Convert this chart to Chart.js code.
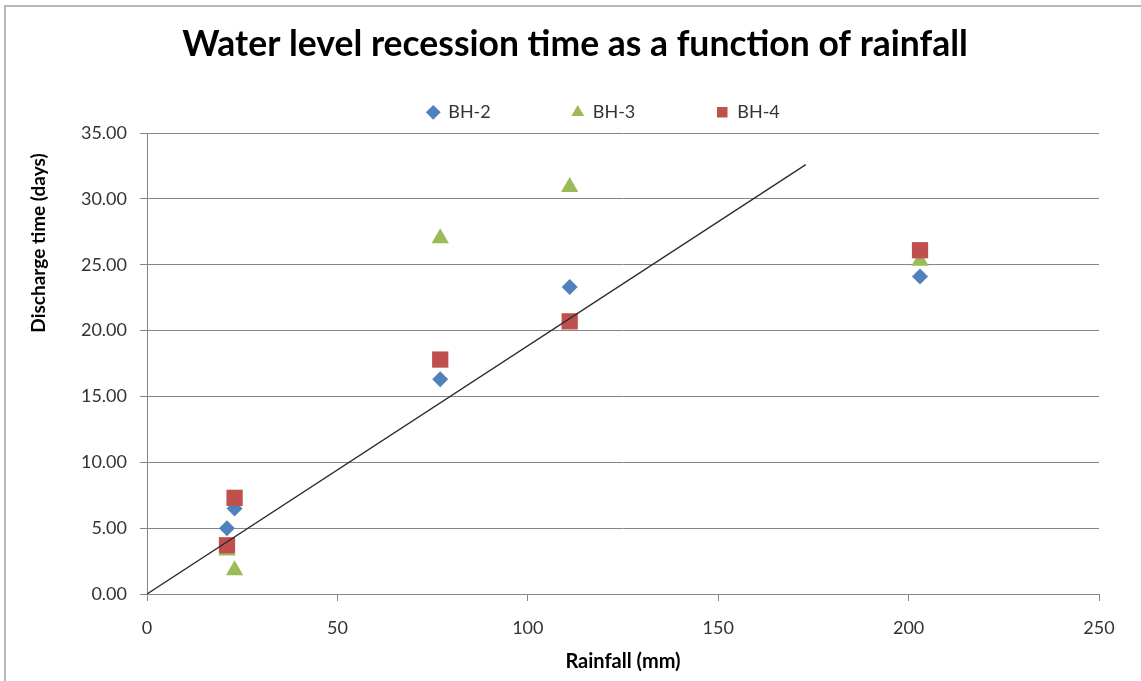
<!DOCTYPE html>
<html>
<head>
<meta charset="utf-8">
<script src="https://cdn.jsdelivr.net/npm/chart.js@4.4.1/dist/chart.umd.min.js"></script>
<style>
  html, body { margin: 0; padding: 0; background: #fff; }
  #wrap { position: relative; width: 1141px; height: 681px; overflow: hidden; }
  #frame { position: absolute; left: 4px; top: 5px; width: 1200px; height: 720px; border: 2px solid #b8b8b8; box-sizing: border-box; pointer-events: none; }
</style>
</head>
<body>
<div id="wrap">
  <canvas id="chart" width="1141" height="681"></canvas>
  <div id="frame"></div>
</div>
<script>
// values
const rainfall = [21, 23, 77, 111, 203];
const bh2 = [5.0, 6.5, 16.3, 23.3, 24.1];
const bh3 = [3.3, 1.8, 27.0, 30.9, 25.3];
const bh4 = [3.7, 7.3, 17.8, 20.7, 26.1];
const trendX = [0, 173];
const trendY = [0, 32.6];
const seriesNames = ["BH-2", "BH-3", "BH-4"];
const xTicks = [0, 50, 100, 150, 200, 250];
const yTicks = [0, 5, 10, 15, 20, 25, 30, 35];

const FONT = "Lato";
const GRID = "#868686";
const TEXT = "#333333";

function points(ys) {
  return rainfall.map((x, i) => ({ x: x, y: ys[i] }));
}

// shift title / legend boxes after layout, draw the rotated y title
const nudge = {
  id: "nudge",
  afterLayout(chart, args, opts) {
    const move = (box, dx, dy) => {
      if (!box) return;
      box.left += dx; box.right += dx;
      box.top += dy; box.bottom += dy;
    };
    move(chart.titleBlock, opts.titleDx, 0);
    move(chart.legend, opts.legendDx, opts.legendDy);
    // legend clips to its own box, so give it room for the items
    if (chart.legend) chart.legend.bottom = chart.legend.top + opts.legendRoom;
  },
  afterDraw(chart, args, opts) {
    const ctx = chart.ctx;
    ctx.save();
    ctx.translate(opts.yTitleX, opts.yTitleY);
    ctx.rotate(-Math.PI / 2);
    ctx.font = "bold 19px " + FONT;
    ctx.fillStyle = "#000";
    ctx.textAlign = "center";
    ctx.textBaseline = "middle";
    ctx.fillText(opts.yTitle, 0, 0);
    ctx.restore();
  }
};

const ctx = document.getElementById("chart").getContext("2d");

new Chart(ctx, {
  type: "scatter",
  data: {
    datasets: [
      {
        label: "trend",
        data: trendX.map((x, i) => ({ x: x, y: trendY[i] })),
        showLine: true,
        borderColor: "#2a2a2a",
        borderWidth: 1.3,
        pointRadius: 0,
        order: 0
      },
      {
        label: seriesNames[0],
        data: points(bh2),
        pointStyle: "rectRot",
        pointRadius: 8,
        backgroundColor: "#4F81BD",
        borderColor: "#4F81BD",
        borderWidth: 0,
        order: 3
      },
      {
        label: seriesNames[1],
        data: points(bh3),
        pointStyle: "triangle",
        pointRadius: 10,
        backgroundColor: "#9BBB59",
        borderColor: "#9BBB59",
        borderWidth: 0,
        order: 2
      },
      {
        label: seriesNames[2],
        data: points(bh4),
        pointStyle: "rect",
        pointRadius: 11.5,
        backgroundColor: "#C0504D",
        borderColor: "#C0504D",
        borderWidth: 0,
        order: 1
      }
    ]
  },
  options: {
    responsive: false,
    animation: false,
    layout: { padding: { left: 0, right: 42, top: 0, bottom: 0 } },
    plugins: {
      title: {
        display: true,
        text: "Water level recession time as a function of rainfall",
        color: "#000",
        font: { family: FONT, size: 35.5, weight: "bold" },
        padding: { top: 23.7, bottom: 10 }
      },
      legend: {
        display: true,
        maxHeight: 56.7,
        labels: {
          usePointStyle: true,
          boxWidth: 12,
          boxHeight: 10.5,
          padding: 81,
          color: TEXT,
          font: { family: FONT, size: 18 },
          filter: item => item.datasetIndex !== 0,
          sort: (a, b) => a.datasetIndex - b.datasetIndex
        }
      },
      tooltip: { enabled: false },
      nudge: {
        titleDx: 25.5,
        legendDx: 54,
        legendDy: -54,
        legendRoom: 200,
        yTitle: "Discharge time (days)",
        yTitleX: 39,
        yTitleY: 243
      }
    },
    scales: {
      x: {
        type: "linear",
        min: 0,
        max: 250,
        afterBuildTicks: scale => { scale.ticks = xTicks.map(v => ({ value: v })); },
        afterFit: scale => { scale.height = 87; },
        grid: { drawOnChartArea: false, drawTicks: true, tickLength: 7, color: GRID },
        border: { display: true, color: GRID, width: 1 },
        ticks: { color: TEXT, padding: 16, maxRotation: 0, font: { family: FONT, size: 18 } },
        title: {
          display: true,
          text: "Rainfall (mm)",
          color: "#000",
          font: { family: FONT, size: 20, weight: "bold" },
          padding: { top: 4, bottom: 7 }
        }
      },
      y: {
        type: "linear",
        min: 0,
        max: 35,
        afterBuildTicks: scale => { scale.ticks = yTicks.map(v => ({ value: v })); },
        afterFit: scale => { scale.width = 147; },
        grid: { color: GRID, drawTicks: true, tickLength: 7 },
        border: { display: true, color: GRID, width: 1 },
        ticks: {
          color: TEXT,
          padding: 13,
          font: { family: FONT, size: 18 },
          callback: v => v.toFixed(2)
        }
      }
    }
  },
  plugins: [nudge]
});
</script>
</body>
</html>
